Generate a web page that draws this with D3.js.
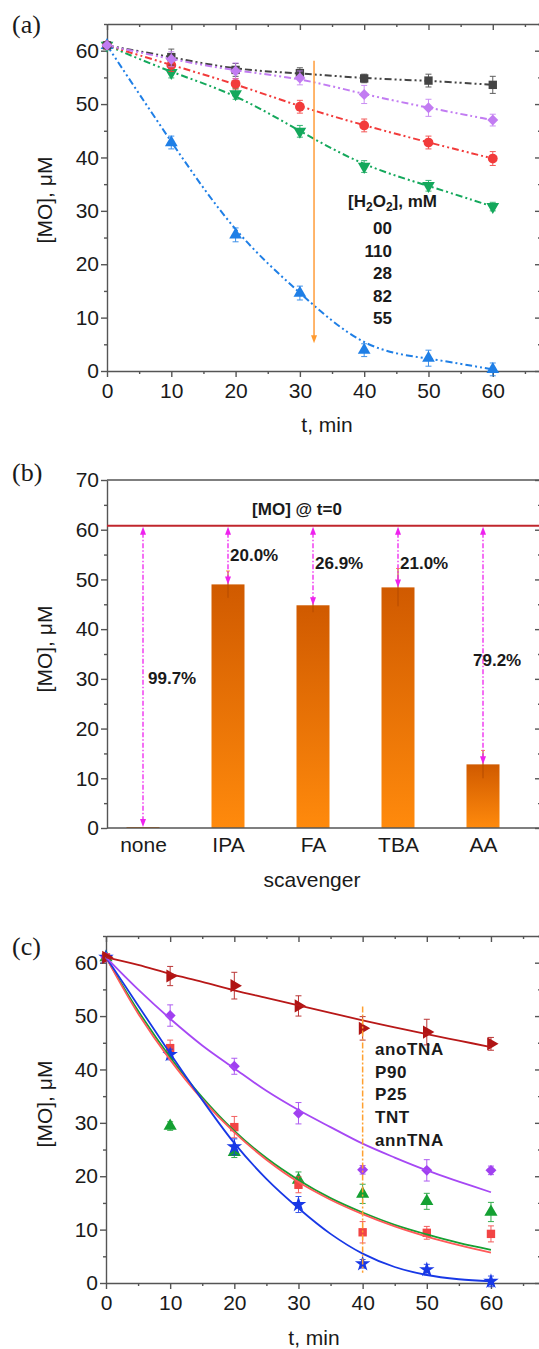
<!DOCTYPE html>
<html>
<head>
<meta charset="utf-8">
<script src="https://cdn.jsdelivr.net/npm/d3@7"></script>
<style>
body { margin: 0; background: #fff; }
text { font-family: "Liberation Sans", Arial, sans-serif; fill: #1a1a1a; }
.axis path, .axis line { stroke: #555; stroke-width: 1.4; }
.axis text { font-size: 21px; fill: #1a1a1a; }
.lbl { font-size: 21px; }
.bold { font-size: 17px; font-weight: bold; }
.panel { font-family: "Liberation Serif", "Times New Roman", serif; font-size: 26px; }
</style>
</head>
<body>
<svg id="fig" width="539" height="1349"></svg>
<script>
// ---- panel (a) data: [MO] vs time at several [H2O2]
var timeA = [0, 10, 20, 30, 40, 50, 60];
var h2o2Labels = ["00", "110", "28", "82", "55"];
var moA00  = [61, 58.8, 56.4, 55.8, 54.8, 54.4, 53.6];
var moA110 = [61, 58.4, 56.2, 54.9, 51.8, 49.3, 47.0];
var moA28  = [61, 57.3, 53.8, 49.5, 46.0, 42.8, 39.8];
var moA82  = [61, 55.9, 51.9, 44.9, 38.3, 34.7, 30.8];
var moA55  = [61, 42.8, 25.5, 14.6, 3.9, 2.4, 0.3];
var errA00  = [0, 1.5, 1.2, 1.0, 0.8, 1.2, 1.6];
var errA110 = [0, 1.4, 1.5, 1.3, 1.7, 1.6, 1.1];
var errA28  = [0, 1.2, 1.0, 1.2, 1.2, 1.2, 1.3];
var errA82  = [0, 1.0, 1.0, 1.1, 1.1, 1.0, 0.8];
var errA55  = [0, 1.2, 1.3, 1.3, 1.2, 1.5, 1.2];
var arrowA = {t: 32.2, from: 58.1, to: 5.4};

// ---- panel (b) data: scavengers
var scavengers = ["none", "IPA", "FA", "TBA", "AA"];
var moB  = [0.2, 49.0, 44.8, 48.4, 12.8];
var errB = [0, 2.7, 1.4, 3.8, 2.8];
var removal = ["99.7%", "20.0%", "26.9%", "21.0%", "79.2%"];
var removalY = [30.2, 54.9, 53.3, 53.3, 33.8];
var mo0 = 60.8;

// ---- panel (c) data: catalysts
var timeC = [0, 10, 20, 30, 40, 50, 60];
var catLabels = ["anoTNA", "P90", "P25", "TNT", "annTNA"];
var moCdr = [61, 57.5, 55.7, 51.9, 47.7, 47.0, 44.8];
var moCpu = [61, 50.1, 40.6, 31.8, 21.2, 21.1, 21.1];
var moCre = [61, 44.0, 29.2, 18.4, 9.5, 9.4, 9.2];
var moCgr = [61, 29.4, 24.5, 19.3, 16.7, 15.3, 13.3];
var moCbl = [61, 42.8, 25.5, 14.7, 3.6, 2.5, 0.3];
var errCdr = [0, 1.8, 2.5, 1.9, 2.2, 2.4, 1.2];
var errCpu = [0, 2.0, 1.5, 2.0, 0.8, 2.0, 0.8];
var errCre = [0, 1.5, 2.0, 1.5, 2.0, 1.2, 1.5];
var errCgr = [0, 0.8, 1.0, 1.5, 1.8, 1.5, 1.8];
var errCbl = [0, 1.0, 1.5, 1.5, 0.8, 1.0, 1.0];
// fitted curves every 5 min
var fitT   = [0, 5, 10, 15, 20, 25, 30, 35, 40, 45, 50, 55, 60];
var fitCdr = [61, 59.6, 57.9, 56.4, 54.8, 53.4, 52.0, 50.6, 49.2, 47.9, 46.6, 45.4, 44.2];
var fitCpu = [61, 55.0, 49.5, 44.5, 40.2, 36.0, 32.4, 29.2, 26.1, 23.5, 21.1, 19.0, 17.0];
var fitCre = [61, 50.5, 41.8, 34.4, 28.2, 23.1, 18.9, 15.6, 12.9, 10.6, 8.7, 7.1, 5.7];
var fitCgr = [61, 51.0, 42.3, 34.8, 28.5, 23.4, 19.3, 15.9, 13.2, 10.9, 9.1, 7.5, 6.2];
var fitCbl = [61, 52.0, 43.0, 34.3, 26.2, 19.5, 14.0, 9.2, 5.5, 3.0, 1.5, 0.7, 0.3];
var markC = {t: 40, from: 51.8, to: 1.9};

var svg = d3.select("#fig");

// ---- common frame with mirrored inner ticks on top/right
function frame(x, y, xMajor, xMinor, yMajor, yMinor, topTicks) {
    var x0 = x.range()[0], x1 = x.range()[x.range().length - 1];
    var y0 = y.range()[0], y1 = y.range()[1];
    var g = svg.append("g");

    if (topTicks) {
        g.append("g").attr("class", "axis").attr("transform", "translate(0," + y1 + ")")
            .call(d3.axisTop(x).tickValues(xMajor).tickSizeInner(-6).tickSizeOuter(0).tickFormat(""));
        g.append("g").attr("class", "axis").attr("transform", "translate(0," + y1 + ")")
            .call(d3.axisTop(x).tickValues(xMinor).tickSizeInner(-3).tickSizeOuter(0).tickFormat(""))
            .select(".domain").remove();
    } else {
        g.append("line").attr("x1", x0).attr("x2", x1).attr("y1", y1).attr("y2", y1)
            .attr("stroke", "#555").attr("stroke-width", 1.4);
    }
    g.append("g").attr("class", "axis").attr("transform", "translate(" + x1 + ",0)")
        .call(d3.axisRight(y).tickValues(yMajor).tickSizeInner(-6).tickSizeOuter(0).tickFormat(""));
    g.append("g").attr("class", "axis").attr("transform", "translate(" + x1 + ",0)")
        .call(d3.axisRight(y).tickValues(yMinor).tickSizeInner(-3).tickSizeOuter(0).tickFormat(""))
        .select(".domain").remove();

    g.append("g").attr("class", "axis")
        .attr("transform", "translate(" + x0 + ",0)")
        .call(d3.axisLeft(y).tickValues(yMajor).tickSize(6).tickSizeOuter(0).tickPadding(2));
    g.append("g").attr("class", "axis")
        .attr("transform", "translate(" + x0 + ",0)")
        .call(d3.axisLeft(y).tickValues(yMinor).tickSize(3).tickFormat(""))
        .select(".domain").remove();

    if (xMajor) {
        g.append("g").attr("class", "axis")
            .attr("transform", "translate(0," + y0 + ")")
            .call(d3.axisBottom(x).tickValues(xMajor).tickSize(6).tickSizeOuter(0).tickPadding(6));
        g.append("g").attr("class", "axis")
            .attr("transform", "translate(0," + y0 + ")")
            .call(d3.axisBottom(x).tickValues(xMinor).tickSize(3).tickFormat(""))
            .select(".domain").remove();
    }
    return g;
}

function yTitle(cy) {
    svg.append("text").attr("class", "lbl")
        .attr("transform", "translate(52," + cy + ") rotate(-90)")
        .attr("text-anchor", "middle").text("[MO], \u03bcM");
}

function symbolPath(type, size) {
    return d3.symbol().type(type).size(size)();
}

function drawPoints(g, x, y, ts, vals, errs, st) {
    var pts = ts.map(function(t, i) { return {t: t, v: vals[i], e: errs[i]}; });
    var eb = g.append("g").attr("stroke", st.color).attr("stroke-width", 1).attr("opacity", 0.85);
    pts.filter(function(d) { return d.e > 0; }).forEach(function(d) {
        var cx = x(d.t);
        eb.append("line").attr("x1", cx).attr("x2", cx).attr("y1", y(d.v - d.e)).attr("y2", y(d.v + d.e));
        eb.append("line").attr("x1", cx - 3).attr("x2", cx + 3).attr("y1", y(d.v - d.e)).attr("y2", y(d.v - d.e));
        eb.append("line").attr("x1", cx - 3).attr("x2", cx + 3).attr("y1", y(d.v + d.e)).attr("y2", y(d.v + d.e));
    });
    g.append("g").selectAll("path").data(pts).enter().append("path")
        .attr("d", symbolPath(st.symbol, st.size))
        .attr("transform", function(d) {
            return "translate(" + x(d.t) + "," + y(d.v) + ") rotate(" + (st.rot || 0) + ")";
        })
        .attr("fill", st.color);
}

// ================= panel (a)
var xA = d3.scaleLinear().domain([0, 67.5]).range([107, 541]);
var yA = d3.scaleLinear().domain([0, 65]).range([371, 24]);
frame(xA, yA, [0, 10, 20, 30, 40, 50, 60], [5, 15, 25, 35, 45, 55, 65],
      [0, 10, 20, 30, 40, 50, 60], [5, 15, 25, 35, 45, 55, 65], true);

var seriesA = [
    {v: moA55,  e: errA55,  color: "#1f7fe6", symbol: d3.symbolTriangle, size: 70},
    {v: moA82,  e: errA82,  color: "#14a85c", symbol: d3.symbolTriangle, size: 70, rot: 180},
    {v: moA28,  e: errA28,  color: "#f23b3b", symbol: d3.symbolCircle, size: 75},
    {v: moA00,  e: errA00,  color: "#444444", symbol: d3.symbolSquare, size: 70},
    {v: moA110, e: errA110, color: "#c27cf2", symbol: d3.symbolSquare, size: 60, rot: 45}
];
var lineA = d3.line().x(function(d) { return xA(d[0]); }).y(function(d) { return yA(d[1]); })
    .curve(d3.curveBasis);
var gA = svg.append("g");
seriesA.forEach(function(s) {
    gA.append("path").datum(timeA.map(function(t, i) { return [t, s.v[i]]; }))
        .attr("d", lineA).attr("fill", "none").attr("stroke", s.color)
        .attr("stroke-width", 2).attr("stroke-dasharray", "7,3,2,3,2,3");
});
seriesA.forEach(function(s) { drawPoints(gA, xA, yA, timeA, s.v, s.e, s); });

// orange arrow
svg.append("line").attr("x1", xA(arrowA.t)).attr("x2", xA(arrowA.t))
    .attr("y1", yA(arrowA.from)).attr("y2", yA(arrowA.to) - 5)
    .attr("stroke", "#ffa347").attr("stroke-width", 1.6);
svg.append("path")
    .attr("d", "M" + (xA(arrowA.t) - 3) + "," + (yA(arrowA.to) - 7) + "h6l-3,8z")
    .attr("fill", "#ff9a30");

var legA = svg.append("g");
var hdr = legA.append("text").attr("class", "bold").attr("x", 348).attr("y", 207);
hdr.append("tspan").text("[H");
hdr.append("tspan").attr("font-size", "12px").attr("dy", 4).text("2");
hdr.append("tspan").attr("dy", -4).text("O");
hdr.append("tspan").attr("font-size", "12px").attr("dy", 4).text("2");
hdr.append("tspan").attr("dy", -4).text("], mM");
legA.selectAll(".it").data(h2o2Labels).enter().append("text")
    .attr("class", "bold").attr("text-anchor", "end")
    .attr("x", 392).attr("y", function(d, i) { return 234 + i * 22.5; })
    .text(function(d) { return d; });

svg.append("text").attr("class", "lbl").attr("x", 327).attr("y", 432)
    .attr("text-anchor", "middle").text("t, min");
yTitle(200);
svg.append("text").attr("class", "panel").attr("x", 12).attr("y", 33).text("(a)");

// ================= panel (b)
var xB = d3.scalePoint().domain(scavengers).range([143, 483]);
var yB = d3.scaleLinear().domain([0, 70]).range([828, 480]);
var frameB = d3.scaleLinear().domain([0, 1]).range([107, 541]);
var gB = frame(frameB, yB, null, null,
      [0, 10, 20, 30, 40, 50, 60, 70], [5, 15, 25, 35, 45, 55, 65], false);
gB.append("g").attr("class", "axis").attr("transform", "translate(0,828)")
    .call(d3.axisBottom(xB).tickSize(0).tickPadding(9))
    .select(".domain").remove();

var defs = svg.append("defs");
var grad = defs.append("linearGradient").attr("id", "barGrad")
    .attr("x1", 0).attr("x2", 0).attr("y1", 0).attr("y2", 1);
grad.append("stop").attr("offset", "0%").attr("stop-color", "#d05a00");
grad.append("stop").attr("offset", "100%").attr("stop-color", "#ff8a0c");

var barW = 33;
svg.append("g").selectAll("rect").data(moB).enter().append("rect")
    .attr("x", function(d, i) { return xB(scavengers[i]) - barW / 2; })
    .attr("y", function(d) { return yB(d); })
    .attr("width", barW)
    .attr("height", function(d) { return yB(0) - yB(d); })
    .attr("fill", "url(#barGrad)");
svg.append("line").attr("x1", 107).attr("x2", 541).attr("y1", 828).attr("y2", 828)
    .attr("stroke", "#555").attr("stroke-width", 1.4);

var ebB = svg.append("g").attr("stroke", "#b44a00").attr("stroke-width", 1);
moB.forEach(function(v, i) {
    if (!errB[i]) return;
    var cx = xB(scavengers[i]);
    ebB.append("line").attr("x1", cx).attr("x2", cx).attr("y1", yB(v - errB[i])).attr("y2", yB(v + errB[i]));
    ebB.append("line").attr("x1", cx - 2).attr("x2", cx + 2).attr("y1", yB(v + errB[i])).attr("y2", yB(v + errB[i]))
        .attr("stroke", "#ff9a40");
});

svg.append("line").attr("x1", 107).attr("x2", 541).attr("y1", yB(mo0)).attr("y2", yB(mo0))
    .attr("stroke", "#c0262c").attr("stroke-width", 2);
svg.append("text").attr("class", "bold").attr("x", 297).attr("y", 515)
    .attr("text-anchor", "middle").text("[MO] @ t=0");

var arB = svg.append("g");
moB.forEach(function(v, i) {
    var cx = xB(scavengers[i]);
    var yt = yB(mo0) + 1, yb = yB(v);
    arB.append("line").attr("x1", cx).attr("x2", cx).attr("y1", yt + 6).attr("y2", yb - 6)
        .attr("stroke", "#ee22ee").attr("stroke-width", 1.3).attr("stroke-dasharray", "5,2,1.5,2");
    arB.append("path").attr("d", "M" + cx + "," + yt + "l-3,8h6z").attr("fill", "#ee22ee");
    arB.append("path").attr("d", "M" + cx + "," + yb + "l-3,-8h6z").attr("fill", "#ee22ee");
});
svg.append("g").selectAll("text").data(removal).enter().append("text")
    .attr("class", "bold")
    .attr("x", function(d, i) { return xB(scavengers[i]) + (i === 4 ? -10 : (i === 0 ? 5 : 2)); })
    .attr("y", function(d, i) { return yB(removalY[i]) + 6; })
    .text(function(d) { return d; });

svg.append("text").attr("class", "lbl").attr("x", 312).attr("y", 887)
    .attr("text-anchor", "middle").text("scavenger");
yTitle(649);
svg.append("text").attr("class", "panel").attr("x", 12).attr("y", 481).text("(b)");

// ================= panel (c)
var xC = d3.scaleLinear().domain([0, 67.8]).range([106, 541]);
var yC = d3.scaleLinear().domain([0, 65]).range([1283, 936]);
frame(xC, yC, [0, 10, 20, 30, 40, 50, 60], [5, 15, 25, 35, 45, 55, 65],
      [0, 10, 20, 30, 40, 50, 60], [5, 15, 25, 35, 45, 55, 65], true);

var seriesC = [
    {v: moCgr, e: errCgr, fit: fitCgr, color: "#14a032", line: "#14a032", symbol: d3.symbolTriangle, size: 75},
    {v: moCre, e: errCre, fit: fitCre, color: "#f24444", line: "#ff5a5a", symbol: d3.symbolSquare, size: 70},
    {v: moCbl, e: errCbl, fit: fitCbl, color: "#1838e6", line: "#1838e6", symbol: d3.symbolStar, size: 75},
    {v: moCpu, e: errCpu, fit: fitCpu, color: "#a040f0", line: "#a648f4", symbol: d3.symbolSquare, size: 60, rot: 45},
    {v: moCdr, e: errCdr, fit: fitCdr, color: "#b01414", line: "#b81818", symbol: d3.symbolTriangle, size: 75, rot: 90}
];
var lineC = d3.line().x(function(d) { return xC(d[0]); }).y(function(d) { return yC(d[1]); })
    .curve(d3.curveCatmullRom.alpha(0.5));
var gC = svg.append("g");
svg.append("line").attr("x1", xC(markC.t)).attr("x2", xC(markC.t))
    .attr("y1", yC(markC.from)).attr("y2", yC(markC.to))
    .attr("stroke", "#ffa030").attr("stroke-width", 1.5).attr("stroke-dasharray", "6,2,2,2");
seriesC.forEach(function(s) {
    drawPoints(gC, xC, yC, timeC, s.v, s.e, s);
});
seriesC.forEach(function(s) {
    gC.append("path").datum(fitT.map(function(t, i) { return [t, s.fit[i]]; }))
        .attr("d", lineC).attr("fill", "none").attr("stroke", s.line).attr("stroke-width", 1.8);
});
svg.append("g").selectAll("text").data(catLabels).enter().append("text")
    .attr("class", "bold").attr("letter-spacing", "0.6px")
    .attr("x", 375).attr("y", function(d, i) { return 1055 + i * 22.7; })
    .text(function(d) { return d; });

svg.append("text").attr("class", "lbl").attr("x", 314).attr("y", 1345)
    .attr("text-anchor", "middle").text("t, min");
yTitle(1104);
svg.append("text").attr("class", "panel").attr("x", 12).attr("y", 955).text("(c)");
</script>
</body>
</html>
